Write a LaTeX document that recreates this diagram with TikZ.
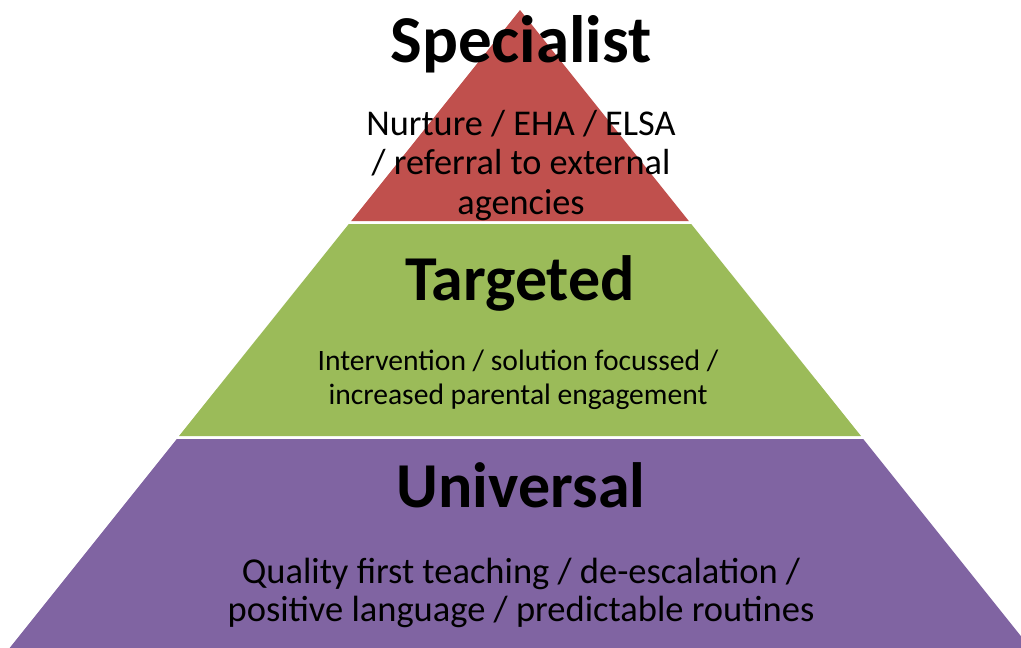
\documentclass[tikz,border=0pt]{standalone}
\usepackage{fontspec}
\setmainfont{Carlito}
\definecolor{specred}{HTML}{C0504D}
\definecolor{targgreen}{HTML}{9BBB59}
\definecolor{univpurple}{HTML}{8064A2}
\tikzset{
  tiertitle/.style={anchor=base,inner sep=0pt,font=\fontsize{64}{70}\selectfont\bfseries},
  tiertext/.style={anchor=base,inner sep=0pt,align=center}
}
\begin{document}
\begin{tikzpicture}[x=1pt,y=-1pt]
  \useasboundingbox (0,0) rectangle (1021,648);
  \clip (0,0) rectangle (1021,648);
  % the three tiers
  \fill[specred] (520,10) -- (688.8,221) -- (351.2,221) -- cycle;
  \fill[targgreen] (348.8,224) -- (691.2,224) -- (861,436) -- (179,436) -- cycle;
  \fill[univpurple] (176.8,439) -- (863.2,439) -- (1030.4,648) -- (9.6,648) -- cycle;
  % labels (base = last line)
  \node[tiertitle,font=\fontsize{67}{70}\selectfont\bfseries] (spec) at (521,62) {Specialist};
  \node[tiertext,font=\fontsize{36.3}{39.5}\selectfont] (spectext) at (521,214)
    {Nurture / EHA / ELSA\\/ referral to external\\agencies};
  \node[tiertitle] (targ) at (520,300) {Targeted};
  \node[tiertext,font=\fontsize{29.6}{34}\selectfont] (targtext) at (518,404)
    {Intervention / solution focussed /\\increased parental engagement};
  \node[tiertitle] (univ) at (521,507) {Universal};
  \node[tiertext,font=\fontsize{36.5}{38}\selectfont] (univtext) at (521,621)
    {Quality first teaching / de-escalation /\\positive language / predictable routines};
\end{tikzpicture}
\end{document}
